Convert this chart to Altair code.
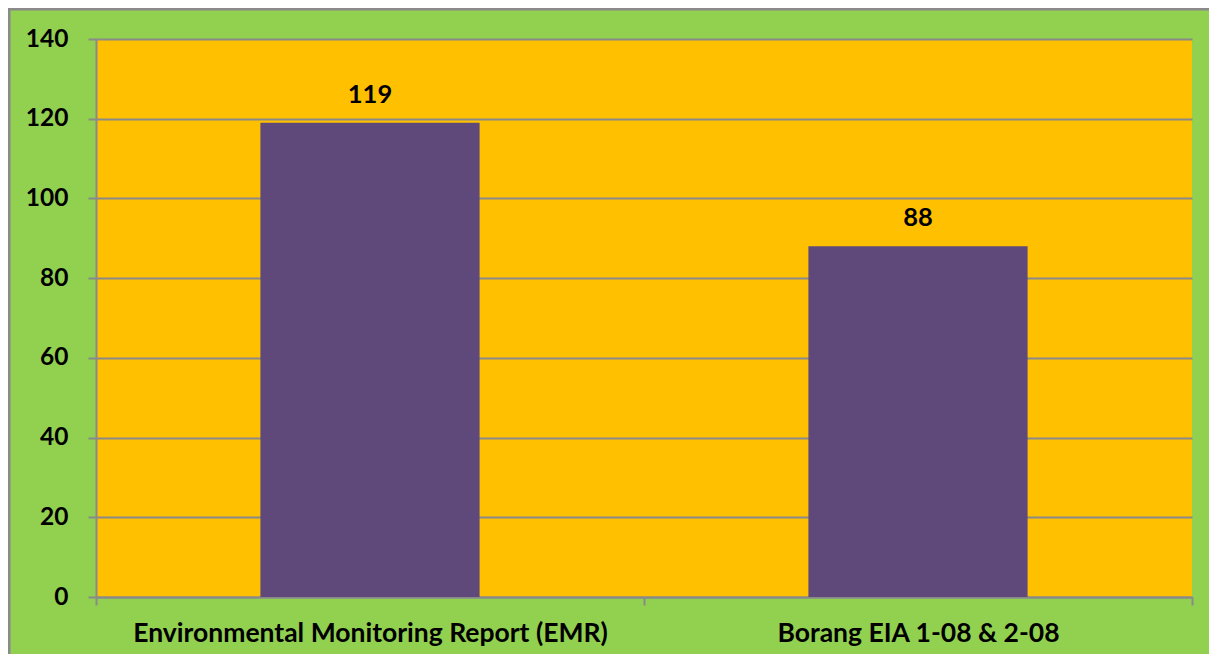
import altair as alt
import pandas as pd

categories = ["Environmental Monitoring Report (EMR)", "Borang EIA 1-08 & 2-08"]
values = [119, 88]
y_ticks = [0, 20, 40, 60, 80, 100, 120, 140]

df = pd.DataFrame({"cat": categories, "val": values})

FONT = "Lato"
GRAY = "#8A8A8A"

x = alt.X("cat:N", sort=categories, title=None,
          scale=alt.Scale(paddingInner=0, paddingOuter=0),
          axis=alt.Axis(labelAngle=0, labelFont=FONT, labelFontSize=26.5, labelFontWeight="bold",
                        labelColor="black", labelPadding=15, labelLimit=0, tickBand="extent", tickSize=8,
                        tickColor=GRAY, tickWidth=2, domainColor=GRAY, domainWidth=2))
y = alt.Y("val:Q", title=None,
          scale=alt.Scale(domain=[0, 140], nice=False),
          axis=alt.Axis(values=y_ticks, labelFont=FONT, labelFontSize=24.5, labelFontWeight="bold",
                        labelColor="black", labelPadding=20, tickSize=8, tickColor=GRAY, tickWidth=2,
                        domainColor=GRAY, domainWidth=2, grid=True, gridColor=GRAY, gridWidth=2))

bars = alt.Chart(df).mark_bar(color="#5F497A", width=alt.RelativeBandSize(0.4)).encode(x=x, y=y)
labels = alt.Chart(df).mark_text(font=FONT, fontSize=25.5, fontWeight="bold", color="black",
                                 baseline="alphabetic", dy=-20).encode(
    x=alt.X("cat:N", sort=categories), y="val:Q", text="val:Q")

border_df = pd.DataFrame({"k": [0]})
top_border = alt.Chart(border_df).mark_rule(color=GRAY, strokeWidth=3).encode(
    x=alt.value(-88), x2=alt.value(1113), y=alt.value(-30))
left_border = alt.Chart(border_df).mark_rule(color=GRAY, strokeWidth=3).encode(
    x=alt.value(-87), y=alt.value(-31), y2=alt.value(615))

chart = alt.layer(bars, labels, top_border, left_border).properties(
    width=1096, height=558,
    padding={"left": 88, "top": 31, "right": 17, "bottom": 57},
    autosize="none",
    background="#92D050",
).configure_view(fill="#FFC000", stroke=None)

chart.save("out.html", embed_options={"renderer": "svg", "actions": False})
